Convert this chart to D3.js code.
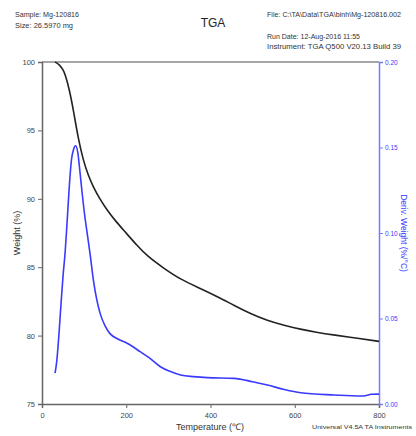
<!DOCTYPE html>
<html><head><meta charset="utf-8">
<script src="https://cdn.jsdelivr.net/npm/d3@7"></script>
<style>body{margin:0;background:#fff}svg{display:block}text{font-family:"Liberation Sans",Arial,sans-serif}</style>
</head><body><svg id="c" width="416" height="436"></svg>
<script>
const weightTemp = [31,40,50,55,65,75,86,98,110,122,138,154,175,200,225,250,290,329,376,420,456,495,535,575,614,650,694,750,800];
const weightVal  = [100,99.85,99.45,99.1,98.0,96.4,94.4,92.8,91.7,90.85,89.95,89.2,88.35,87.5,86.6,85.8,84.9,84.1,83.45,82.8,82.2,81.6,81.1,80.75,80.46,80.25,80.04,79.8,79.58];
const derivTemp = [31,35,40,45,50,55,60,65,70,75,80,85,90,95,100,106,114,122,130,138,150,162,180,202,233,260,281,305,329,360,392,456,500,535,575,614,694,757,770,781,800];
const derivVal  = [0.018,0.025,0.040,0.058,0.075,0.089,0.108,0.128,0.143,0.149,0.151,0.147,0.136,0.124,0.113,0.102,0.088,0.0725,0.061,0.053,0.0455,0.041,0.038,0.0355,0.0306,0.026,0.0218,0.019,0.017,0.016,0.0154,0.015,0.013,0.0111,0.0085,0.0066,0.0053,0.0047,0.0050,0.0057,0.0058];
const xTicks = [0,200,400,600,800];
const yTicks = [75,80,85,90,95,100];
const y2Ticks = [0,0.05,0.10,0.15,0.20];
const headerLeft = ["Sample: Mg-120816","Size:  26.5970 mg"];
const headerLeftW = [64,58];
const headerRight = ["File: C:\\TA\\Data\\TGA\\binh\\Mg-120816.002","Run Date: 12-Aug-2016 11:55","Instrument: TGA Q500 V20.13 Build 39"];
const headerRightW = [134,93,134];
const headerRightY = [17,39,49];

const svg = d3.select("#c");
const L=42,R=379,T=62,B=404;
const x = d3.scaleLinear().domain([0,800]).range([L,R]);
const y = d3.scaleLinear().domain([75,100]).range([B,T]);
const y2 = d3.scaleLinear().domain([0,0.20]).range([B,T]);
const axisCol="#666", blue="#3a3aff";

svg.append("line").attr("x1",L).attr("x2",R).attr("y1",T).attr("y2",T).attr("stroke","#888").attr("stroke-width",1.5);

const gx = svg.append("g").attr("transform",`translate(0,${B})`);
gx.call(d3.axisBottom(x).tickValues(d3.range(0,801,50)).tickSize(3).tickFormat(""));
gx.call(d3.axisBottom(x).tickValues(xTicks).tickSize(4).tickFormat(d3.format("d")));
gx.selectAll("path,line").attr("stroke",axisCol);
gx.select(".domain").attr("stroke-width",1.5);
gx.selectAll("text").attr("font-size",7.5).attr("fill","#444").attr("dy","0.9em");

const gy = svg.append("g").attr("transform",`translate(${L},0)`);
gy.call(d3.axisLeft(y).tickValues(d3.range(75,100.1,1)).tickSize(2).tickFormat(""));
gy.call(d3.axisLeft(y).tickValues(yTicks).tickSize(4).tickFormat(d3.format("d")));
gy.selectAll("path,line").attr("stroke",axisCol);
gy.select(".domain").attr("stroke-width",1.5);
gy.selectAll("text").attr("font-size",7.5).attr("fill","#444");

const gy2 = svg.append("g").attr("transform",`translate(${R},0)`);
gy2.call(d3.axisRight(y2).tickValues(d3.range(0,16).map(i=>i*0.0125)).tickSize(2).tickFormat(""));
gy2.call(d3.axisRight(y2).tickValues(y2Ticks).tickSize(4).tickFormat(d3.format(".2f")));
gy2.selectAll("path,line").attr("stroke","#7a7aff");
gy2.select(".domain").attr("stroke-width",1.5);
gy2.selectAll("text").attr("font-size",6.5).attr("fill",blue).attr("x",6);

const wData = weightTemp.map((t,i)=>[t,weightVal[i]]);
const dData = derivTemp.map((t,i)=>[t,derivVal[i]]);
svg.append("path").datum(wData).attr("fill","none").attr("stroke","#222").attr("stroke-width",1.6)
  .attr("d",d3.line().x(d=>x(d[0])).y(d=>y(d[1])).curve(d3.curveBasis));
svg.append("path").datum(dData).attr("fill","none").attr("stroke",blue).attr("stroke-width",1.6)
  .attr("d",d3.line().x(d=>x(d[0])).y(d=>y2(d[1])).curve(d3.curveMonotoneX));

svg.append("text").attr("x",210).attr("y",430).attr("text-anchor","middle").attr("font-size",9).attr("fill","#333").text("Temperature (℃)");
svg.append("text").attr("x",312).attr("y",429).attr("font-size",5.5).attr("fill","#333").attr("textLength",100).attr("lengthAdjust","spacingAndGlyphs").text("Universal V4.5A TA Instruments");
svg.append("text").attr("transform","translate(20,233) rotate(-90)").attr("text-anchor","middle").attr("font-size",9).attr("fill","#333").text("Weight (%)");
svg.append("text").attr("transform","translate(401,233) rotate(90)").attr("text-anchor","middle").attr("font-size",8.5).attr("fill",blue).text("Deriv. Weight (%/°C)");

svg.append("text").attr("x",213).attr("y",27).attr("text-anchor","middle").attr("font-size",12).attr("fill","#222").text("TGA");
headerLeft.forEach((s,i)=>svg.append("text").attr("x",15).attr("y",17+i*11).attr("font-size",8).attr("fill","#333")
  .attr("textLength",headerLeftW[i]).attr("lengthAdjust","spacingAndGlyphs").text(s));
headerRight.forEach((s,i)=>svg.append("text").attr("x",267).attr("y",headerRightY[i]).attr("font-size",i===0?7.2:8).attr("fill","#333")
  .attr("textLength",headerRightW[i]).attr("lengthAdjust","spacingAndGlyphs").text(s));
</script></body></html>
